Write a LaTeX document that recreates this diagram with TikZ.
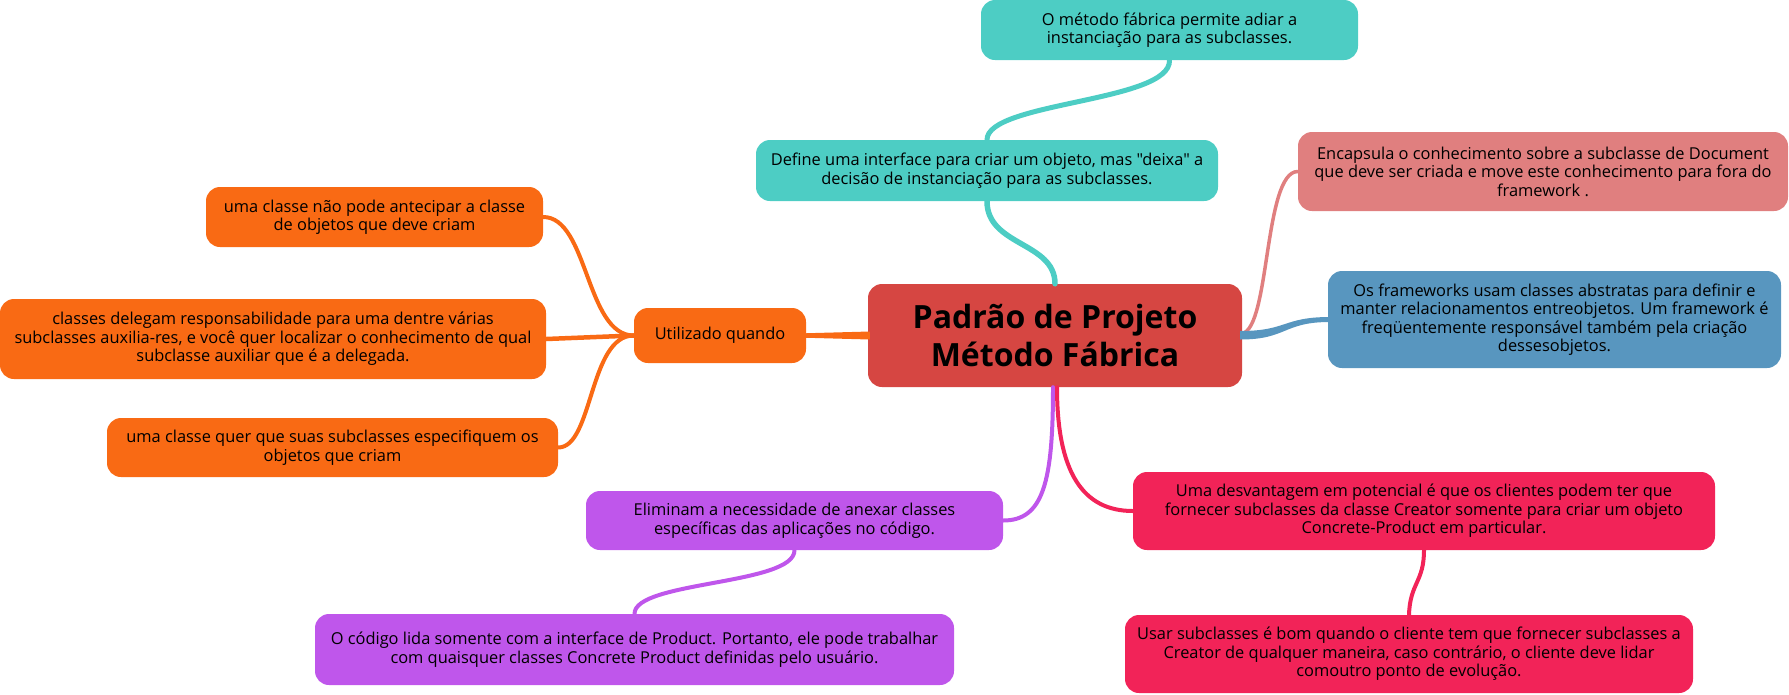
\documentclass[tikz,border=0pt]{standalone}
\usepackage{fontspec}
\setmainfont{Open Sans}[Ligatures=TeXOff]
\usetikzlibrary{calc}
\definecolor{tealc}{RGB}{77,205,196}
\definecolor{centralc}{RGB}{214,70,66}
\definecolor{orangec}{RGB}{249,106,20}
\definecolor{pinkc}{RGB}{224,127,127}
\definecolor{bluec}{RGB}{88,150,191}
\definecolor{purplec}{RGB}{191,86,235}
\definecolor{redc}{RGB}{242,35,88}
\tikzset{
  box/.style={rectangle, rounded corners=14pt, align=center, inner sep=0pt,
    text=black, font=\fontsize{16.4}{18.5}\selectfont},
  conn/.style={line width=4pt, line cap=round}
}
\begin{document}
\begin{tikzpicture}[x=1pt,y=-1pt]
\useasboundingbox (0,0) rectangle (1789,694);
% nodes
\node[box, fill=tealc, minimum width=377pt, minimum height=60pt] (top1) at (1169.5,30)
  {O método fábrica permite adiar a\\instanciação para as subclasses.};
\node[box, fill=tealc, minimum width=462pt, minimum height=61pt] (def) at (987,170.5)
  {Define uma interface para criar um objeto, mas "deixa" a\\decisão de instanciação para as subclasses.};
\node[box, fill=centralc, minimum width=374pt, minimum height=103pt, font=\fontsize{32}{38}\selectfont\bfseries] (central) at (1055,335.5)
  {Padrão de Projeto\\Método Fábrica};
\node[box, fill=orangec, minimum width=172pt, minimum height=55pt] (util) at (720,335.5)
  {Utilizado quando};
\node[box, fill=orangec, minimum width=337pt, minimum height=60pt] (o1) at (374.5,217)
  {uma classe não pode antecipar a classe\\de objetos que deve criam};
\node[box, fill=orangec, minimum width=546pt, minimum height=80pt] (o2) at (273,339)
  {classes delegam responsabilidade para uma dentre várias\\subclasses auxilia-res, e você quer localizar o conhecimento de qual\\subclasse auxiliar que é a delegada.};
\node[box, fill=orangec, minimum width=451pt, minimum height=59pt] (o3) at (332.5,447.5)
  {uma classe quer que suas subclasses especifiquem os\\objetos que criam};
\node[box, fill=pinkc, minimum width=490pt, minimum height=79pt] (enc) at (1543,171.5)
  {Encapsula o conhecimento sobre a subclasse de Document\\que deve ser criada e move este conhecimento para fora do\\framework .};
\node[box, fill=bluec, minimum width=453pt, minimum height=97pt] (fw) at (1554.5,319.5)
  {Os frameworks usam classes abstratas para definir e\\manter relacionamentos entreobjetos. Um framework é\\freqüentemente responsável também pela criação\\dessesobjetos.};
\node[box, fill=purplec, minimum width=417pt, minimum height=59pt] (elim) at (794.5,520.5)
  {Eliminam a necessidade de anexar classes\\específicas das aplicações no código.};
\node[box, fill=purplec, minimum width=639pt, minimum height=71pt] (cod) at (634.5,649.5)
  {O código lida somente com a interface de Product. Portanto, ele pode trabalhar\\com quaisquer classes Concrete Product definidas pelo usuário.};
\node[box, fill=redc, minimum width=582pt, minimum height=78pt] (desv) at (1424,511)
  {Uma desvantagem em potencial é que os clientes podem ter que\\fornecer subclasses da classe Creator somente para criar um objeto\\Concrete-Product em particular.};
\node[box, fill=redc, minimum width=568pt, minimum height=78pt] (usar) at (1409,654)
  {Usar subclasses é bom quando o cliente tem que fornecer subclasses a\\Creator de qualquer maneira, caso contrário, o cliente deve lidar\\comoutro ponto de evolução.};
% connectors
\draw[conn, tealc, line width=5pt] (def.north) .. controls ($(def.north)+(0,-38)$) and ($(top1.south)+(1.5,42)$) .. (top1.south);
\draw[conn, tealc, line width=5.5pt] (def.south) .. controls ($(def.south)+(0,45)$) and ($(central.north)+(0,-42)$) .. (central.north);
\fill[orangec] ($(util.east)+(-2,-2.2)$) -- ($(central.west)+(2,-4)$) -- ($(central.west)+(2,4)$) -- ($(util.east)+(-2,2.2)$) -- cycle;
\draw[conn, orangec] (util.west) .. controls ($(util.west)+(-48,0)$) and ($(o1.east)+(45,0)$) .. (o1.east);
\draw[conn, orangec, line width=4.5pt] (util.west) -- (o2.east);
\draw[conn, orangec] (util.west) .. controls ($(util.west)+(-45,0)$) and ($(o3.east)+(35,0)$) .. (o3.east);
\draw[conn, pinkc, line width=3.5pt] ($(central.east)+(0,-2)$) .. controls ($(central.east)+(28,-8)$) and ($(enc.west)+(-34,0)$) .. (enc.west);
\fill[bluec] ($(central.east)+(-2,-4.5)$) .. controls ($(central.east)+(45,-4.5)$) and ($(fw.west)+(-45,-2.5)$) .. ($(fw.west)+(2,-2.5)$)
  -- ($(fw.west)+(2,2.5)$) .. controls ($(fw.west)+(-45,2.5)$) and ($(central.east)+(45,4)$) .. ($(central.east)+(-2,4)$) -- cycle;
\draw[conn, purplec] ($(central.south)+(-2,0)$) .. controls ($(central.south)+(-2,95)$) and ($(elim.east)+(40,0)$) .. (elim.east);
\draw[conn, purplec] (elim.south) .. controls ($(elim.south)+(0,35)$) and ($(cod.north)+(0,-33)$) .. (cod.north);
\draw[conn, redc] ($(central.south)+(2,0)$) .. controls ($(central.south)+(2,85)$) and ($(desv.west)+(-50,0)$) .. (desv.west);
\draw[conn, redc] (desv.south) .. controls ($(desv.south)+(0,32)$) and ($(usar.north)+(1,-32)$) .. (usar.north);
\end{tikzpicture}
\end{document}
